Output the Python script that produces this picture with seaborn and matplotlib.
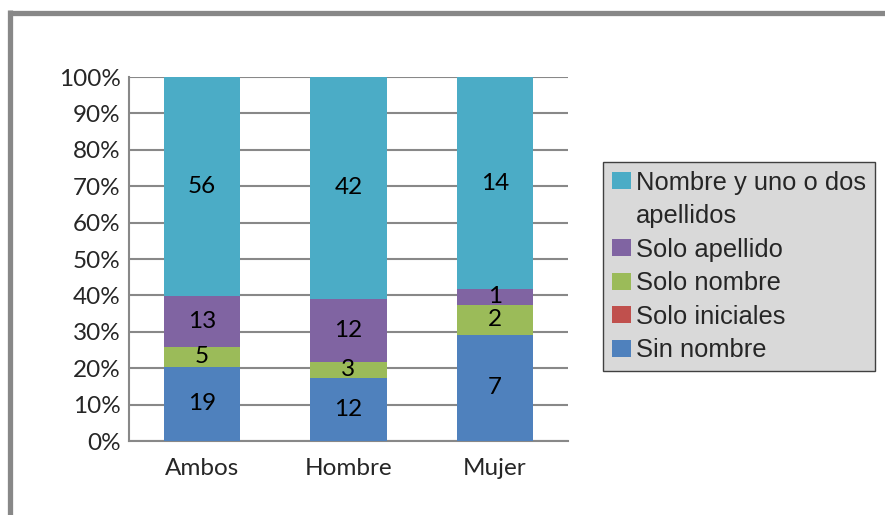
import matplotlib
matplotlib.use("Agg")
import matplotlib.pyplot as plt
import seaborn as sns
import pandas as pd
import numpy as np
from matplotlib.lines import Line2D
from matplotlib.patches import Patch

categories = ["Ambos", "Hombre", "Mujer"]
series_names = ["Sin nombre", "Solo iniciales", "Solo nombre", "Solo apellido", "Nombre y uno o dos apellidos"]
sin_nombre = [19, 12, 7]
solo_iniciales = [0, 0, 0]
solo_nombre = [5, 3, 2]
solo_apellido = [13, 12, 1]
nombre_apellidos = [56, 42, 14]
colors = ["#4f81bd", "#c0504d", "#9bbb59", "#8064a2", "#4bacc6"]
yticks = [0, 10, 20, 30, 40, 50, 60, 70, 80, 90, 100]
ytick_labels = [f"{t}%" for t in yticks]

sns.set_theme(style="white")
plt.rcParams["font.family"] = ["Lato", "DejaVu Sans"]

values = np.array([sin_nombre, solo_iniciales, solo_nombre, solo_apellido, nombre_apellidos], dtype=float)
totals = values.sum(axis=0)
pct = values / totals * 100
cum = np.cumsum(pct, axis=0)

fig = plt.figure(figsize=(8.85, 5.15), dpi=100)
ax = fig.add_axes([129 / 885, 1 - 441 / 515, (568 - 129) / 885, (441 - 77) / 515])

# draw from top layer (cumulative) down so that overlaps create the stack
for i in range(len(series_names) - 1, -1, -1):
    df = pd.DataFrame({"cat": categories, "val": cum[i]})
    sns.barplot(data=df, x="cat", y="val", color=colors[i], width=0.52,
                saturation=1, ax=ax, zorder=3, linewidth=0)

# data labels
for i in range(len(series_names)):
    for j in range(len(categories)):
        if values[i, j] == 0:
            continue
        bottom = cum[i, j] - pct[i, j]
        ax.text(j, bottom + pct[i, j] / 2, f"{int(values[i, j])}", ha="center", va="center",
                fontsize=17.5, color="black", zorder=5)

ax.set_xlim(-0.5, 2.5)
ax.set_ylim(0, 100)
ax.set_yticks(yticks)
ax.set_yticklabels(ytick_labels, fontsize=17.5)
ax.tick_params(axis="x", labelsize=17.5, pad=12, length=0)
ax.tick_params(axis="y", pad=6, length=0)
ax.set_xlabel("")
ax.set_ylabel("")
for y in yticks:
    ax.axhline(y, color="#888888", linewidth=1.5, zorder=1)
for s in ["top", "right"]:
    ax.spines[s].set_visible(False)
for s in ["left", "bottom"]:
    ax.spines[s].set_color("#888888")
    ax.spines[s].set_linewidth(1.5)
ax.set_facecolor("white")

# legend (second row is the wrapped continuation of the first label)
handles = [Patch(facecolor=colors[4], edgecolor="none"),
           Patch(facecolor="none", edgecolor="none"),
           Patch(facecolor=colors[3], edgecolor="none"),
           Patch(facecolor=colors[2], edgecolor="none"),
           Patch(facecolor=colors[1], edgecolor="none"),
           Patch(facecolor=colors[0], edgecolor="none")]
labels = ["Nombre y uno o dos", "apellidos", "Solo apellido", "Solo nombre", "Solo iniciales", "Sin nombre"]
leg = fig.legend(handles, labels, loc="upper left", bbox_to_anchor=(603 / 885, 1 - 162 / 515),
                 frameon=True, fancybox=False, prop={"family": ["Liberation Sans", "DejaVu Sans"], "size": 18.4},
                 handlelength=0.75, handleheight=0.65, handletextpad=0.2, labelspacing=0.37,
                 borderpad=0.35, borderaxespad=0)
leg.get_frame().set_facecolor("#d9d9d9")
leg.get_frame().set_edgecolor("#404040")
leg.get_frame().set_linewidth(1.0)
leg.get_frame().set_alpha(1)

# figure border (top and left)
fig.add_artist(Line2D([9 / 885, 1], [1 - 12.5 / 515, 1 - 12.5 / 515], transform=fig.transFigure,
                      color="#888888", linewidth=3.8, solid_capstyle="butt"))
fig.add_artist(Line2D([9.5 / 885, 9.5 / 885], [0, 1 - 10 / 515], transform=fig.transFigure,
                      color="#888888", linewidth=3.8, solid_capstyle="butt"))

fig.savefig("out.png", dpi=100)
